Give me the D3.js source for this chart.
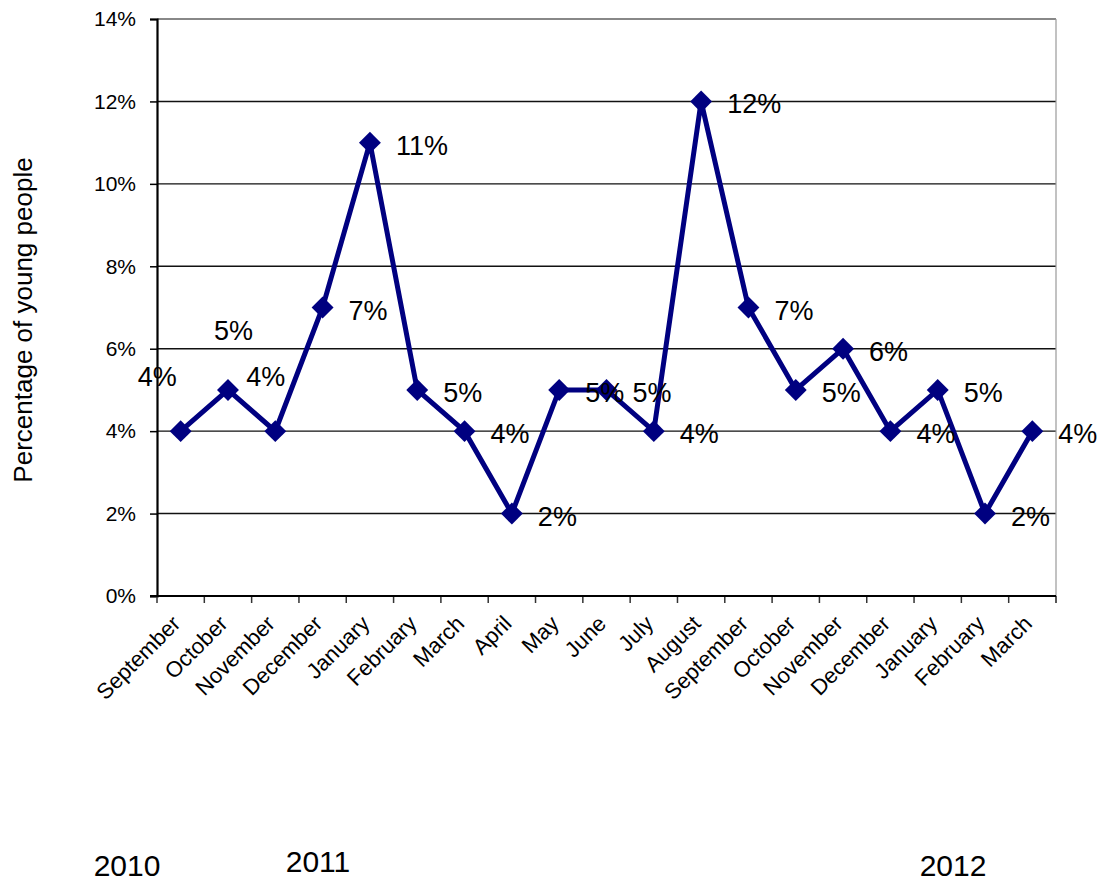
<!DOCTYPE html>
<html>
<head>
<meta charset="utf-8">
<script src="https://cdn.jsdelivr.net/npm/d3@7/dist/d3.min.js"></script>
<style>
  html, body { margin: 0; padding: 0; background: #fff; }
  svg { display: block; font-family: "Liberation Sans", Arial, sans-serif; }
</style>
</head>
<body>
<svg id="chart" width="1101" height="884"></svg>
<script>
// Monthly share of young people, September 2010 – March 2012
const months = ["September", "October", "November", "December", "January", "February",
  "March", "April", "May", "June", "July", "August", "September", "October",
  "November", "December", "January", "February", "March"];
const percentages = [4, 5, 4, 7, 11, 5, 4, 2, 5, 5, 4, 12, 7, 5, 6, 4, 5, 2, 4];
const yTicks = [0, 2, 4, 6, 8, 10, 12, 14];
const years = ["2010", "2011", "2012"];
const yAxisTitle = "Percentage of young people";

const svg = d3.select("#chart");
const plot = { left: 157, right: 1056, top: 19, bottom: 596 };
const navy = "#000080";

const x = d3.scaleBand()
  .domain(d3.range(months.length))
  .range([plot.left, plot.right]);
const y = d3.scaleLinear().domain([0, 14]).range([plot.bottom, plot.top]);
const cx = i => x(i) + x.bandwidth() / 2;

// horizontal gridlines
svg.append("g").selectAll("line")
  .data(yTicks.filter(t => t > 0 && t < 14))
  .join("line")
  .attr("x1", plot.left).attr("x2", plot.right)
  .attr("y1", d => y(d)).attr("y2", d => y(d))
  .attr("stroke", "#111").attr("stroke-width", 1.4);

// plot-area frame (top and right)
svg.append("line")
  .attr("x1", plot.left).attr("x2", plot.right)
  .attr("y1", y(14)).attr("y2", y(14))
  .attr("stroke", "#888").attr("stroke-width", 2);
svg.append("line")
  .attr("x1", plot.right).attr("x2", plot.right)
  .attr("y1", y(14)).attr("y2", plot.bottom + 7)
  .attr("stroke", "#999").attr("stroke-width", 1.2);

// y axis
const yAxis = svg.append("g")
  .attr("transform", `translate(${plot.left},0)`)
  .call(d3.axisLeft(y).tickValues(yTicks).tickFormat(d => d + "%").tickSize(7).tickPadding(14));
yAxis.select(".domain").attr("stroke", "#000").attr("stroke-width", 2.2);
yAxis.selectAll(".tick line").attr("stroke", "#000").attr("stroke-width", 1.5);
yAxis.selectAll(".tick text")
  .attr("font-size", 21).attr("fill", "#000")
  .attr("font-family", "Liberation Sans, Arial, sans-serif");

// x axis: ticks on category boundaries
const bounds = d3.range(months.length + 1).map(i => plot.left + i * x.bandwidth());
svg.append("g").selectAll("line")
  .data(bounds)
  .join("line")
  .attr("x1", d => d).attr("x2", d => d)
  .attr("y1", plot.bottom).attr("y2", plot.bottom + 7)
  .attr("stroke", "#333").attr("stroke-width", 1.5);
svg.append("line")
  .attr("x1", plot.left - 7).attr("x2", plot.right)
  .attr("y1", plot.bottom).attr("y2", plot.bottom)
  .attr("stroke", "#000").attr("stroke-width", 2.2);

// rotated month labels
svg.append("g").selectAll("text")
  .data(months)
  .join("text")
  .attr("transform", (d, i) => `translate(${cx(i) + 1},${plot.bottom + 29}) rotate(-45)`)
  .attr("text-anchor", "end")
  .attr("font-size", 22)
  .attr("fill", "#000")
  .text(d => d);

// y axis title
svg.append("text")
  .attr("transform", "translate(32,320) rotate(-90)")
  .attr("text-anchor", "middle")
  .attr("font-size", 26)
  .attr("fill", "#000")
  .text(yAxisTitle);

// series line
const line = d3.line().x((d, i) => cx(i)).y(d => y(d));
svg.append("path")
  .datum(percentages)
  .attr("d", line)
  .attr("fill", "none")
  .attr("stroke", navy)
  .attr("stroke-width", 5)
  .attr("stroke-linejoin", "miter");

// diamond markers
const diamond = d3.symbol().type(d3.symbolSquare).size(240);
svg.append("g").selectAll("path")
  .data(percentages)
  .join("path")
  .attr("d", diamond)
  .attr("transform", (d, i) => `translate(${cx(i)},${y(d)}) rotate(45)`)
  .attr("fill", navy);

// value labels; the first three sit above their points
const labelShift = { 0: [-43, -54], 1: [-14, -59], 2: [-29, -54] };
svg.append("g").selectAll("text")
  .data(percentages)
  .join("text")
  .attr("x", (d, i) => cx(i) + (labelShift[i] ? labelShift[i][0] : 26))
  .attr("y", (d, i) => y(d) + (labelShift[i] ? labelShift[i][1] : 3))
  .attr("dominant-baseline", "central")
  .attr("font-size", 27)
  .attr("fill", "#000")
  .text(d => d + "%");

// year captions under the month axis
const yearPos = [[127, 876], [318, 872], [953, 876]];
svg.append("g").selectAll("text")
  .data(years)
  .join("text")
  .attr("x", (d, i) => yearPos[i][0])
  .attr("y", (d, i) => yearPos[i][1])
  .attr("text-anchor", "middle")
  .attr("font-size", 30)
  .attr("fill", "#000")
  .text(d => d);
</script>
</body>
</html>
